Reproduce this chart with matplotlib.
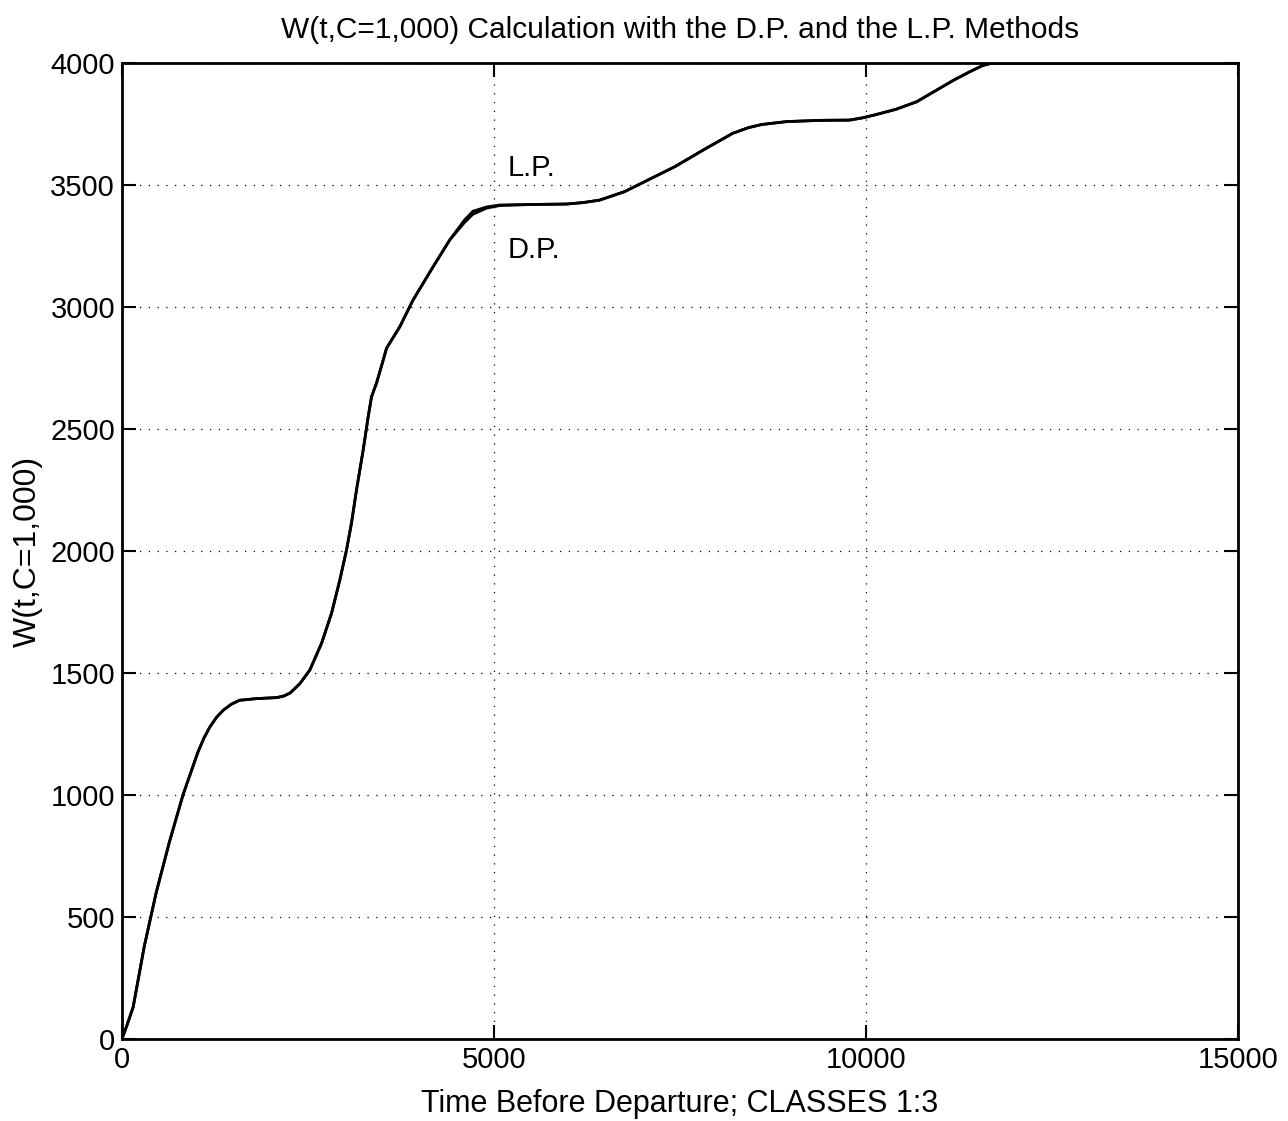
import matplotlib
matplotlib.use("Agg")
import matplotlib.pyplot as plt

# Data
t_dp = [0, 60, 150, 300, 460, 640, 820, 1020, 1100, 1180, 1270, 1360, 1470,
        1580, 1810, 2080, 2180, 2260, 2390, 2525, 2683, 2817, 2928, 3018, 3085,
        3152, 3242, 3309, 3354, 3421, 3490, 3556, 3734, 3913, 4182, 4406, 4600,
        4715, 4899, 5080, 5500, 5980, 6200, 6420, 6757, 7100, 7430, 7850, 8210,
        8420, 8600, 8940, 9400, 9780, 9950, 10115, 10400, 10680, 11180, 11400,
        11570, 11700, 12500, 15000]
w_dp = [0, 50, 130, 380, 600, 810, 1000, 1175, 1232, 1278, 1318, 1347, 1372,
        1388, 1395, 1399, 1406, 1418, 1456, 1512, 1622, 1745, 1881, 2004, 2115,
        2250, 2414, 2550, 2632, 2688, 2760, 2831, 2919, 3029, 3165, 3275, 3345,
        3380, 3405, 3416, 3420, 3422, 3428, 3438, 3473, 3525, 3575, 3650, 3712,
        3735, 3748, 3760, 3765, 3766, 3775, 3787, 3810, 3841, 3930, 3965,
        3990, 4000, 4000, 4000]

t_lp = list(t_dp)
w_lp = [0, 50, 130, 380, 600, 810, 1000, 1175, 1232, 1278, 1318, 1347, 1372,
        1388, 1395, 1399, 1406, 1418, 1456, 1512, 1622, 1745, 1881, 2004, 2115,
        2250, 2414, 2550, 2632, 2688, 2760, 2831, 2919, 3029, 3165, 3275, 3355,
        3392, 3410, 3418, 3420, 3422, 3428, 3438, 3473, 3525, 3575, 3650, 3712,
        3735, 3748, 3760, 3765, 3766, 3775, 3787, 3810, 3841, 3930, 3965,
        3990, 4000, 4000, 4000]

xticks = [0, 5000, 10000, 15000]
yticks = [0, 500, 1000, 1500, 2000, 2500, 3000, 3500, 4000]

plt.rcParams['font.family'] = ['Liberation Sans', 'DejaVu Sans']

fig = plt.figure(figsize=(12.88, 11.21), dpi=100)
ax = fig.add_axes([0.0947, 0.0732, 0.8665, 0.8706])

ax.plot(t_dp, w_dp, color='black', lw=2.0, solid_joinstyle='round')
ax.plot(t_lp, w_lp, color='black', lw=2.0, solid_joinstyle='round')

ax.set_xlim(0, 15000)
ax.set_ylim(0, 4000)
ax.set_xticks(xticks)
ax.set_yticks(yticks)
ax.set_xticklabels([str(v) for v in xticks])
ax.set_yticklabels([str(v) for v in yticks])

ax.grid(True, color='black', linestyle=(0, (1, 6)), linewidth=0.9)
ax.tick_params(direction='in', length=10, width=1.5, top=True, right=True,
               labelsize=21, pad=5)
for s in ax.spines.values():
    s.set_linewidth(2.0)

ax.text(5185, 3570, 'L.P.', fontsize=21, va='center', ha='left')
ax.text(5185, 3234, 'D.P.', fontsize=21, va='center', ha='left')

ax.set_title('W(t,C=1,000) Calculation with the D.P. and the L.P. Methods',
             fontsize=21.5, pad=18)
ax.set_xlabel('Time Before Departure; CLASSES 1:3', fontsize=22, labelpad=11)
ax.set_ylabel('W(t,C=1,000)', fontsize=23, labelpad=5)

fig.savefig('out.png', dpi=100)
